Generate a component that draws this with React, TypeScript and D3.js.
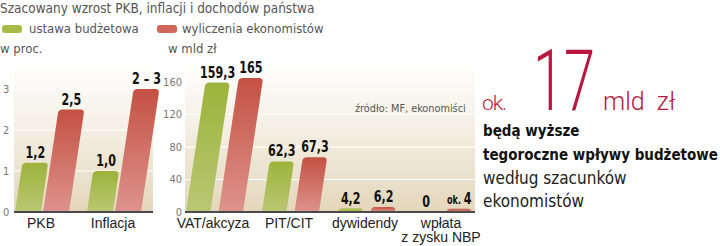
import React from "react";
import * as d3 from "d3";

const title = "Szacowany wzrost PKB, inflacji i dochodów państwa";
const seriesNames = ["ustawa budżetowa", "wyliczenia ekonomistów"];
const seriesKeys = ["u", "w"];

const leftCats = ["PKB", "Inflacja"];
const leftBudget = [1.2, 1.0];
const leftEcon = [2.5, 3.0];
const leftBudgetLabels = ["1,2", "1,0"];
const leftEconLabels = ["2,5", "2 – 3"];
const leftTicks = [0, 1, 2, 3];

const rightCats = ["VAT/akcyza", "PIT/CIT", "dywidendy", "wpłata\nz zysku NBP"];
const rightBudget = [159.3, 62.3, 4.2, 0];
const rightEcon = [165, 67.3, 6.2, 4];
const rightBudgetLabels = ["159,3", "62,3", "4,2", "0"];
const rightEconLabels = ["165", "67,3", "6,2", "ok. 4"];
const rightTicks = [0, 40, 80, 120, 160];

const NARROW = "'DejaVu Sans Condensed', 'Liberation Sans Narrow', sans-serif";
const SANS = "'Liberation Sans', Arial, sans-serif";
const LIGHT = "Roboto, 'Open Sans', sans-serif";
const RED_TXT = "#b8173f";

function barPath(x0: number, w: number, yb: number, yt: number, k = 0.15, r = 4) {
  const h = yb - yt;
  if (h <= 0.01) return "";
  const s = k * h;
  const rr = Math.min(r, h, w / 2);
  const len = Math.hypot(s, h);
  const ux = s / len;
  const uy = -h / len;
  return [
    `M${x0},${yb}`,
    `L${x0 + s - ux * rr},${yt - uy * rr}`,
    `Q${x0 + s},${yt} ${x0 + s + rr},${yt}`,
    `L${x0 + s + w - rr},${yt}`,
    `Q${x0 + s + w},${yt} ${x0 + w + s - ux * rr},${yt - uy * rr}`,
    `L${x0 + w},${yb}`,
    "Z",
  ].join(" ");
}

const K = 0.15;

function Panel(props: {
  cats: string[];
  a: number[];
  b: number[];
  la: string[];
  lb: string[];
  ticks: number[];
  y: d3.ScaleLinear<number, number>;
  x: d3.ScalePoint<string>;
  inner: d3.ScaleBand<string>;
  x0: number;
  x1: number;
  tickX: number;
  tickAnchor: "start" | "end";
}) {
  const { cats, a, b, la, lb, ticks, y, x, inner, x0, x1, tickX, tickAnchor } = props;
  const yb = y(0);
  const bw = inner.bandwidth();
  return (
    <g>
      <rect x={x0} y={62} width={x1 - x0} height={yb - 62} fill="url(#bgGrad)" />
      {ticks.filter((t) => t > 0).map((t) => (
        <line key={"g" + t} x1={x0} x2={x1} y1={y(t)} y2={y(t)} stroke="#ffffff" strokeWidth={1.2} />
      ))}
      {ticks.map((t) => (
        <text key={"t" + t} x={tickX} y={y(t) + 3.5} fontFamily={NARROW} fontSize={11} fill="#777" textAnchor={tickAnchor}>
          {t}
        </text>
      ))}
      {cats.map((c, i) => {
        const cx = x(c)!;
        const vals = [a[i], b[i]];
        const labs = [la[i], lb[i]];
        return (
          <g key={c}>
            {seriesKeys.map((s, j) => {
              const bx = cx + inner(s)!;
              const yt = y(vals[j]);
              const h = yb - yt;
              const topC = bx + bw / 2 + K * h;
              const lab = labs[j];
              const isOk = lab.startsWith("ok.");
              return (
                <g key={s}>
                  <path d={barPath(bx, bw, yb, yt, K)} fill={j === 0 ? "url(#gGrad)" : "url(#rGrad)"} />
                  <text
                    transform={`translate(${topC},${yt - 5}) scale(0.75,1)`}
                    textAnchor="middle"
                    fontFamily={NARROW}
                    fontWeight="bold"
                    fontSize={16.5}
                    fill="#111"
                  >
                    {isOk ? (
                      <>
                        <tspan fontSize={12}>ok. </tspan>
                        <tspan>{lab.slice(4)}</tspan>
                      </>
                    ) : (
                      lab
                    )}
                  </text>
                </g>
              );
            })}
            {c.split("\n").map((line, li) => (
              <text key={li} x={cx - 1} y={228 + li * 14} textAnchor="middle" fontFamily={SANS} fontSize={14} fill="#222">
                {line}
              </text>
            ))}
          </g>
        );
      })}
      <line x1={x0} x2={x1} y1={yb} y2={yb} stroke="#4a4a4a" strokeWidth={2} />
    </g>
  );
}

export default function App() {
  const yL = d3.scaleLinear().domain([0, 3]).range([212, 89]);
  const yR = d3.scaleLinear().domain([0, 160]).range([212, 82]);
  const xL = d3.scalePoint<string>().domain(leftCats).range([42, 114]);
  const xR = d3.scalePoint<string>().domain(rightCats).range([214, 442]);
  const innerL = d3.scaleBand<string>().domain(seriesKeys).range([-27, 27]).paddingInner(0.08);
  const innerR = d3.scaleBand<string>().domain(seriesKeys).range([-28, 29]).paddingInner(0.25);

  return (
    <svg width={720} height={246} style={{ position: "absolute", left: 0, top: 0, background: "#fff" }}>
      <defs>
        <linearGradient id="bgGrad" x1="0" y1="0" x2="0" y2="1">
          <stop offset="0" stopColor="#ffffff" />
          <stop offset="0.45" stopColor="#f4efe3" />
          <stop offset="1" stopColor="#e3d7bb" />
        </linearGradient>
        <linearGradient id="gGrad" x1="0" y1="0" x2="0" y2="1">
          <stop offset="0" stopColor="#9db33a" />
          <stop offset="1" stopColor="#bac774" />
        </linearGradient>
        <linearGradient id="rGrad" x1="0" y1="0" x2="0" y2="1">
          <stop offset="0" stopColor="#c45143" />
          <stop offset="1" stopColor="#dd938c" />
        </linearGradient>
      </defs>

      <text x={0} y={13} fontFamily={NARROW} fontSize={13.5} fill="#555">
        {title}
      </text>
      <rect x={2} y={25} width={20} height={8} rx={3} fill="#a8ba48" />
      <text x={29} y={33} fontFamily={NARROW} fontSize={13} fill="#555">
        {seriesNames[0]}
      </text>
      <rect x={157} y={25} width={20} height={8} rx={3} fill="#d0675a" />
      <text x={182} y={33} fontFamily={NARROW} fontSize={13} fill="#555">
        {seriesNames[1]}
      </text>
      <text x={0} y={53} fontFamily={NARROW} fontSize={13} fill="#555">
        w proc.
      </text>
      <text x={168} y={53} fontFamily={NARROW} fontSize={13} fill="#555">
        w mld zł
      </text>

      <Panel
        cats={leftCats}
        a={leftBudget}
        b={leftEcon}
        la={leftBudgetLabels}
        lb={leftEconLabels}
        ticks={leftTicks}
        y={yL}
        x={xL}
        inner={innerL}
        x0={14}
        x1={153}
        tickX={3}
        tickAnchor="start"
      />
      <Panel
        cats={rightCats}
        a={rightBudget}
        b={rightEcon}
        la={rightBudgetLabels}
        lb={rightEconLabels}
        ticks={rightTicks}
        y={yR}
        x={xR}
        inner={innerR}
        x0={185}
        x1={475}
        tickX={182}
        tickAnchor="end"
      />
      <text x={355} y={112} fontFamily={NARROW} fontSize={10.8} fill="#555">
        źródło: MF, ekonomiści
      </text>

      <text x={482} y={110} fontFamily={LIGHT} fontWeight={300} fontSize={21} letterSpacing={-1} fill={RED_TXT}>
        ok.
      </text>
      <text x={533} y={110} fontFamily={LIGHT} fontWeight={300} fontSize={86} fill={RED_TXT} textLength={62} lengthAdjust="spacingAndGlyphs">
        17
      </text>
      <text x={603} y={110} fontFamily={LIGHT} fontWeight={300} fontSize={25} wordSpacing={6} fill={RED_TXT}>
        mld zł
      </text>
      <text x={483} y={136} fontFamily={NARROW} fontWeight="bold" fontSize={15} fill="#111">
        będą wyższe
      </text>
      <text x={483} y={160} fontFamily={NARROW} fontWeight="bold" fontSize={15} fill="#111">
        tegoroczne wpływy budżetowe
      </text>
      <text x={483} y={184} fontFamily={NARROW} fontSize={17} fill="#222">
        według szacunków
      </text>
      <text x={483} y={207} fontFamily={NARROW} fontSize={17} fill="#222">
        ekonomistów
      </text>
    </svg>
  );
}
